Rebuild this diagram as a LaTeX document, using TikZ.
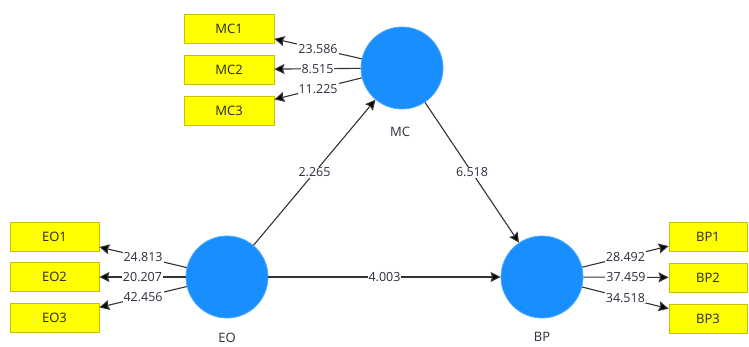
\documentclass[tikz,border=0pt]{standalone}
\usepackage{fontspec}
\setmainfont{Open Sans}
\usetikzlibrary{arrows.meta}
\definecolor{lvblue}{RGB}{24,142,255}
\definecolor{mvyellow}{RGB}{255,255,0}
\definecolor{mvedge}{RGB}{196,196,0}
\definecolor{linegray}{RGB}{50,50,50}
\definecolor{textgray}{RGB}{45,45,60}
\begin{document}
\begin{tikzpicture}[x=1pt,y=-1pt,
  latent/.style={circle,fill=lvblue,draw=lvblue!75!white,line width=0.8pt,minimum size=82pt,inner sep=0pt},
  indicator/.style={rectangle,fill=mvyellow,draw=mvedge,line width=0.8pt,minimum height=29pt,inner sep=0pt,font=\fontsize{13}{15}\selectfont,text=black!85},
  relpath/.style={draw=linegray,line width=1.1pt,-{Stealth[length=10pt,width=10pt,inset=1.5pt,fill=black]}},
  coef/.style={fill=white,inner sep=1pt,font=\fontsize{12.5}{14}\selectfont,text=textgray},
  lvname/.style={font=\fontsize{13}{15}\selectfont,text=textgray}
]
\useasboundingbox (0,0) rectangle (749,347);

% latent variables
\node[latent] (MC) at (402,68) {};
\node[latent] (EO) at (227,277) {};
\node[latent] (BP) at (542,277) {};
\node[lvname] (MClab) at (400,132) {MC};
\node[lvname] (EOlab) at (227,338) {EO};
\node[lvname] (BPlab) at (542,337) {BP};

% indicators
\node[indicator,minimum width=90pt] (MC1) at (229,28.5) {MC1};
\node[indicator,minimum width=90pt] (MC2) at (229,69.5) {MC2};
\node[indicator,minimum width=90pt] (MC3) at (229,110.5) {MC3};
\node[indicator,minimum width=89pt] (EO1) at (54.5,236.5) {EO1};
\node[indicator,minimum width=89pt] (EO2) at (54.5,277) {EO2};
\node[indicator,minimum width=89pt] (EO3) at (54.5,318) {EO3};
\node[indicator,minimum width=78pt] (BP1) at (708,236.5) {BP1};
\node[indicator,minimum width=78pt] (BP2) at (708,277.5) {BP2};
\node[indicator,minimum width=78pt] (BP3) at (708,318.5) {BP3};

% outer loadings
\draw[relpath] (MC) -- node[coef]{23.586} (MC1);
\draw[relpath] (MC) -- node[coef]{8.515} (MC2);
\draw[relpath] (MC) -- node[coef]{11.225} (MC3);
\draw[relpath] (EO) -- node[coef]{24.813} (EO1);
\draw[relpath] (EO) -- node[coef]{20.207} (EO2);
\draw[relpath] (EO) -- node[coef]{42.456} (EO3);
\draw[relpath] (BP) -- node[coef]{28.492} (BP1);
\draw[relpath] (BP) -- node[coef]{37.459} (BP2);
\draw[relpath] (BP) -- node[coef]{34.518} (BP3);

% structural paths
\draw[relpath] (EO) -- node[coef]{2.265} (MC);
\draw[relpath] (MC) -- node[coef]{6.518} (BP);
\draw[relpath] (EO) -- node[coef]{4.003} (BP);
\end{tikzpicture}
\end{document}
